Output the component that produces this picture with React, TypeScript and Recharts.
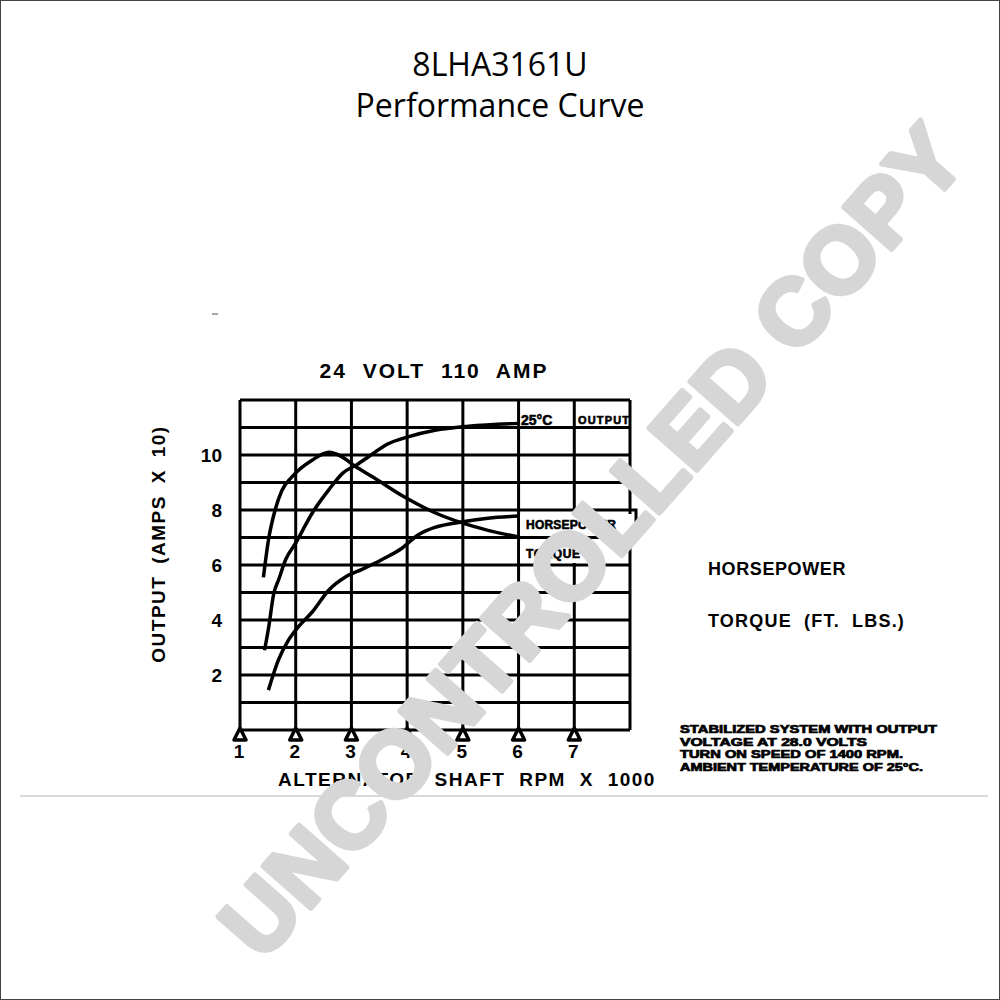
import { LineChart, Line, XAxis, YAxis, ReferenceLine } from 'recharts';

// rpm x 1000 on the x axis, amps x 10 on the y axis
const rpmTicks = [1, 2, 3, 4, 5, 6, 7];
const rpmGrid = [1, 2, 3, 4, 5, 6, 7, 8];
const ampGrid = [0, 1, 2, 3, 4, 5, 6, 7, 8, 9, 10, 11, 12];
const ampTicks = [2, 4, 6, 8, 10];

const outputRpm = [1.44, 1.52, 1.6, 1.7, 1.82, 2.0, 2.3, 2.6, 2.85, 3.1, 3.35, 3.65, 4.0, 4.5, 5.1, 6.0];
const outputAmps = [2.9, 3.8, 4.9, 5.5, 6.2, 6.8, 7.9, 8.75, 9.35, 9.65, 10.0, 10.4, 10.65, 10.9, 11.05, 11.15];

const torqueRpm = [1.42, 1.51, 1.63, 1.75, 1.93, 2.3, 2.6, 2.8, 3.06, 3.4, 3.93, 4.5, 5.0, 5.45, 6.0];
const torqueVals = [5.55, 6.9, 8.0, 8.7, 9.2, 9.82, 10.1, 9.97, 9.6, 9.18, 8.5, 7.9, 7.52, 7.26, 7.02];

const hpRpm = [1.51, 1.69, 1.87, 2.05, 2.3, 2.6, 2.9, 3.2, 3.55, 3.9, 4.2, 4.5, 5.0, 5.45, 6.0];
const hpVals = [1.45, 2.55, 3.27, 3.76, 4.3, 5.1, 5.57, 5.85, 6.2, 6.6, 7.1, 7.37, 7.57, 7.7, 7.78];

const noteLines = [
  'STABILIZED SYSTEM WITH OUTPUT',
  'VOLTAGE AT 28.0 VOLTS',
  'TURN ON SPEED OF 1400 RPM.',
  'AMBIENT TEMPERATURE OF 25°C.',
];
const noteWidths = [257, 187, 223, 243];

const zip = (xs: number[], ys: number[]) => xs.map((rpm, i) => ({ rpm, v: ys[i] }));
const outputData = zip(outputRpm, outputAmps);
const torqueData = zip(torqueRpm, torqueVals);
const hpData = zip(hpRpm, hpVals);

const font = '"Liberation Sans", Arial, sans-serif';
const tickStyle = { fill: '#000', fontSize: 19, fontWeight: 700, fontFamily: font };

function RpmTick({ x, y, payload }: any) {
  return (
    <g>
      <path
        d={`M${x} ${y - 2} L${x - 6} ${y + 10} L${x + 6} ${y + 10} Z`}
        fill="#fff"
        stroke="#000"
        strokeWidth={3.5}
        strokeLinejoin="round"
      />
      <text x={x - 1} y={y + 28} textAnchor="middle" {...tickStyle}>
        {payload.value}
      </text>
    </g>
  );
}

export default function App() {
  return (
    <div style={{ position: 'absolute', left: 0, top: 0, width: 1000, height: 1000, background: '#fff' }}>
      <div style={{ position: 'absolute', left: 0, top: 0 }}>
        <LineChart width={1000} height={1000} margin={{ top: 400, left: 200, right: 330, bottom: 240 }}>
          <XAxis
            dataKey="rpm"
            type="number"
            domain={[1, 8]}
            allowDataOverflow
            ticks={rpmTicks}
            interval={0}
            axisLine={false}
            tickLine={false}
            tickSize={0}
            tickMargin={0}
            height={30}
            tick={<RpmTick />}
          />
          <YAxis
            yAxisId="left"
            type="number"
            domain={[0, 12]}
            ticks={ampTicks}
            interval={0}
            axisLine={false}
            tickLine={false}
            tickSize={0}
            tickMargin={18}
            width={40}
            tick={tickStyle}
          />
          <YAxis
            yAxisId="right"
            orientation="right"
            type="number"
            domain={[0, 12]}
            ticks={ampTicks}
            interval={0}
            axisLine={false}
            tickLine={false}
            tickSize={0}
            tickMargin={11}
            width={40}
            tick={tickStyle}
          />
          {ampGrid.map((a) => (
            <ReferenceLine key={`h${a}`} yAxisId="left" y={a} stroke="#000" strokeWidth={3} />
          ))}
          {rpmGrid.map((r) => (
            <ReferenceLine key={`v${r}`} yAxisId="left" x={r} stroke="#000" strokeWidth={3} />
          ))}
          <Line yAxisId="left" data={outputData} dataKey="v" type="monotone" stroke="#000" strokeWidth={3.5} dot={false} isAnimationActive={false} />
          <Line yAxisId="left" data={torqueData} dataKey="v" type="monotone" stroke="#000" strokeWidth={3.5} dot={false} isAnimationActive={false} />
          <Line yAxisId="left" data={hpData} dataKey="v" type="monotone" stroke="#000" strokeWidth={3.5} dot={false} isAnimationActive={false} />
        </LineChart>
      </div>

      <svg width={1000} height={1000} style={{ position: 'absolute', left: 0, top: 0, pointerEvents: 'none' }}>
        <rect x={0.5} y={0.5} width={999} height={999} fill="none" stroke="#444" strokeWidth={1} />

        <text x={500} y={76} textAnchor="middle" fontFamily='"Open Sans", sans-serif' fontSize={32} fill="#000">
          8LHA3161U
        </text>
        <text x={500} y={117} textAnchor="middle" fontFamily='"Open Sans", sans-serif' fontSize={32} fill="#000">
          Performance Curve
        </text>

        <text x={434} y={378} textAnchor="middle" fontFamily={font} fontWeight={700} fontSize={21} letterSpacing={2} wordSpacing={8} fill="#000">
          24 VOLT 110 AMP
        </text>
        <text
          transform="translate(165 544) rotate(-90)"
          textAnchor="middle"
          fontFamily={font}
          fontWeight={700}
          fontSize={19}
          letterSpacing={1.5}
          wordSpacing={5}
          fill="#000"
        >
          OUTPUT (AMPS X 10)
        </text>
        <text x={467} y={786} textAnchor="middle" fontFamily={font} fontWeight={700} fontSize={19} letterSpacing={1.5} wordSpacing={7} fill="#000">
          ALTERNATOR SHAFT RPM X 1000
        </text>

        <text x={708} y={575} fontFamily={font} fontWeight={700} fontSize={18} letterSpacing={0.6} fill="#000">
          HORSEPOWER
        </text>
        <text x={708} y={627} fontFamily={font} fontWeight={700} fontSize={18} letterSpacing={1.2} wordSpacing={6} fill="#000">
          TORQUE (FT. LBS.)
        </text>

        {noteLines.map((line, i) => (
          <text
            key={line}
            x={680}
            y={733 + i * 12.5}
            fontFamily={font}
            fontWeight={900}
            fontSize={10.5}
            stroke="#000"
            strokeWidth={0.7}
            fill="#000"
            textLength={noteWidths[i]}
            lengthAdjust="spacingAndGlyphs"
          >
            {line}
          </text>
        ))}

        {/* curve captions inside the grid */}
        <text x={521} y={425} fontFamily={font} fontWeight={900} fontSize={14} stroke="#000" strokeWidth={0.6} fill="#000">
          25°C
        </text>
        <text x={578} y={424} fontFamily={font} fontWeight={900} fontSize={11} stroke="#000" strokeWidth={0.6} fill="#000" textLength={51}>
          OUTPUT
        </text>
        <rect x={520} y={514} width={112} height={21} fill="#fff" />
        <path d="M630 510 L636 510 L636 533 L630 536" fill="none" stroke="#000" strokeWidth={3} />
        <text x={526} y={529} fontFamily={font} fontWeight={900} fontSize={12} stroke="#000" strokeWidth={0.6} fill="#000" textLength={90}>
          HORSEPOWER
        </text>
        <rect x={520} y={541} width={64} height={22} fill="#fff" />
        <text x={526} y={558} fontFamily={font} fontWeight={900} fontSize={12} stroke="#000" strokeWidth={0.6} fill="#000" textLength={54}>
          TORQUE
        </text>

        <line x1={20} y1={796} x2={988} y2={796} stroke="#b5b5b5" strokeWidth={1.2} />
        <line x1={212} y1={314} x2={218} y2={314} stroke="#888" strokeWidth={1.5} />

        {/* watermark */}
        <text
          transform="translate(592 541) rotate(-48.6)"
          textAnchor="middle"
          dominantBaseline="central"
          fontFamily={font}
          fontWeight={700}
          fontSize={93}
          fill="#d6d6d6"
          stroke="#d6d6d6"
          strokeWidth={5}
          strokeLinejoin="round"
        >
          UNCONTROLLED COPY
        </text>
      </svg>
    </div>
  );
}
